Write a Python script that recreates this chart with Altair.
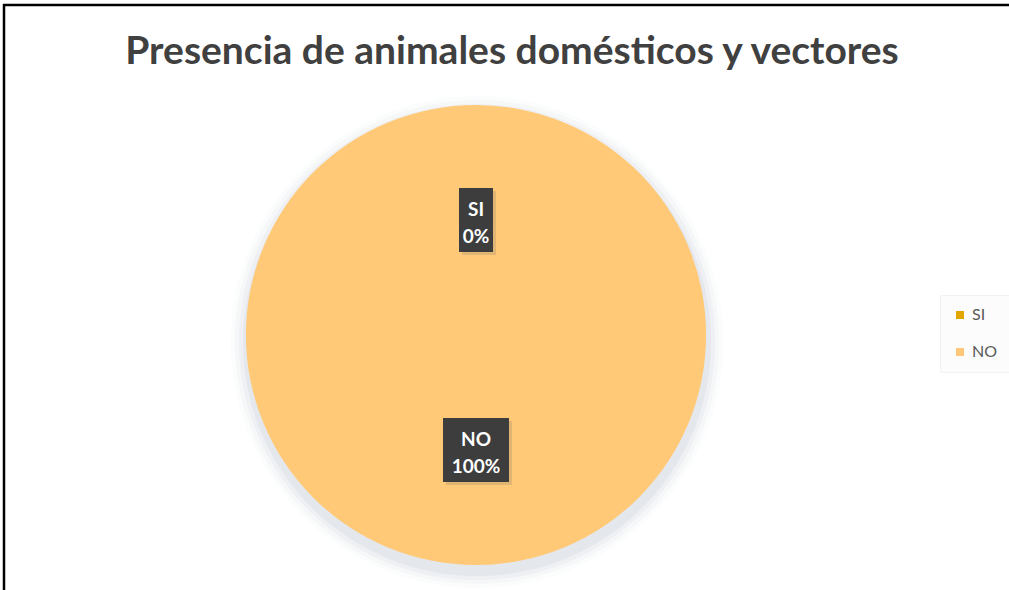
import altair as alt
import pandas as pd

categories = ["SI", "NO"]
values = [0, 100]
percent_labels = ["0%", "100%"]
colors = ["#E3A600", "#FFC977"]
title_text = "Presencia de animales domésticos y vectores"

df = pd.DataFrame({"cat": categories, "val": values, "pct": percent_labels, "order": [0, 1]})

W, H = 952, 470
PAD_TOP = 100
CX, CY = W / 2, H / 2
R = 230
RL = 115

base = alt.Chart(df)

# soft shadow under the pie
shadows = []
for extra, op in [(16, 0.06), (12, 0.09), (8, 0.13), (4, 0.2)]:
    shadows.append(
        alt.Chart(df).transform_filter("datum.order == 0").mark_arc(
            outerRadius=R + extra, color="#BFC4D2", opacity=op
        ).encode(
            theta=alt.value(0), theta2=alt.value(6.2832),
            x=alt.value(CX + 1), y=alt.value(CY + 7)
        )
    )

pie = base.mark_arc(outerRadius=R, stroke=None).encode(
    theta=alt.Theta("val:Q", stack=True),
    color=alt.Color(
        "cat:N",
        scale=alt.Scale(domain=categories, range=colors),
        sort=categories,
        legend=alt.Legend(
            title=None, orient="none", legendX=940, legendY=195,
            symbolType="square", symbolSize=64, symbolStrokeWidth=0,
            labelFont="Lato", labelFontSize=16, labelColor="#595959",
            labelOffset=4, rowPadding=21, padding=12,
            fillColor="#FCFCFC", strokeColor="#F2F2F2",
        ),
    ),
    order=alt.Order("order:Q"),
)

lab = base.transform_joinaggregate(total="sum(val)").transform_window(
    cum="sum(val)", sort=[alt.SortField("order")], frame=[None, 0]
).transform_calculate(
    mid="(datum.cum - datum.val/2)/datum.total*2*PI",
).transform_calculate(
    px=f"{CX} + {RL}*sin(datum.mid)",
    py=f"{CY} - {RL}*cos(datum.mid)",
    hw="max(length(datum.cat), length(datum.pct))*8 + 1",
    txt="datum.cat + '\\n' + datum.pct",
).transform_calculate(
    x1="datum.px - datum.hw", x2="datum.px + datum.hw",
    y1="datum.py - 32", y2="datum.py + 32",
    sx1="datum.px - datum.hw + 3", sx2="datum.px + datum.hw + 3",
    sy1="datum.py - 29", sy2="datum.py + 35",
    ty="datum.py - 4",
)

box_shadow = lab.mark_rect(color="#9A8A70", opacity=0.3).encode(
    x=alt.X("sx1:Q", scale=None), x2="sx2:Q",
    y=alt.Y("sy1:Q", scale=None), y2="sy2:Q",
)
box = lab.mark_rect(color="#3D3D3D").encode(
    x=alt.X("x1:Q", scale=None), x2="x2:Q",
    y=alt.Y("y1:Q", scale=None), y2="y2:Q",
)
text = lab.mark_text(
    font="Lato", fontSize=19, fontWeight="bold", color="white",
    lineBreak="\n", lineHeight=27, baseline="alphabetic", align="center",
).encode(
    x=alt.X("px:Q", scale=None), y=alt.Y("ty:Q", scale=None), text="txt:N"
)

border_left = alt.Chart(df).transform_filter("datum.order == 0").mark_rule(
    color="black", strokeWidth=2.5
).encode(x=alt.value(4), y=alt.value(-96), y2=alt.value(H + 30))
border_top = alt.Chart(df).transform_filter("datum.order == 0").mark_rule(
    color="black", strokeWidth=2.5
).encode(x=alt.value(3), x2=alt.value(1009), y=alt.value(-95))

chart = alt.layer(
    *shadows, pie, box_shadow, box, text, border_left, border_top
).properties(
    width=W, height=H,
    background="white",
    autosize=alt.AutoSizeParams(type="none"),
    padding={"left": 0, "top": PAD_TOP, "right": 57, "bottom": 20},
    title=alt.TitleParams(
        title_text, font="Lato", fontSize=39, fontWeight="bold",
        color="#404040", baseline="alphabetic", offset=33, dy=133, dx=36,
        frame="group", anchor="middle",
    ),
).configure_view(strokeWidth=0, stroke="transparent")

chart.save("out.html", embed_options={"renderer": "svg", "actions": False})
